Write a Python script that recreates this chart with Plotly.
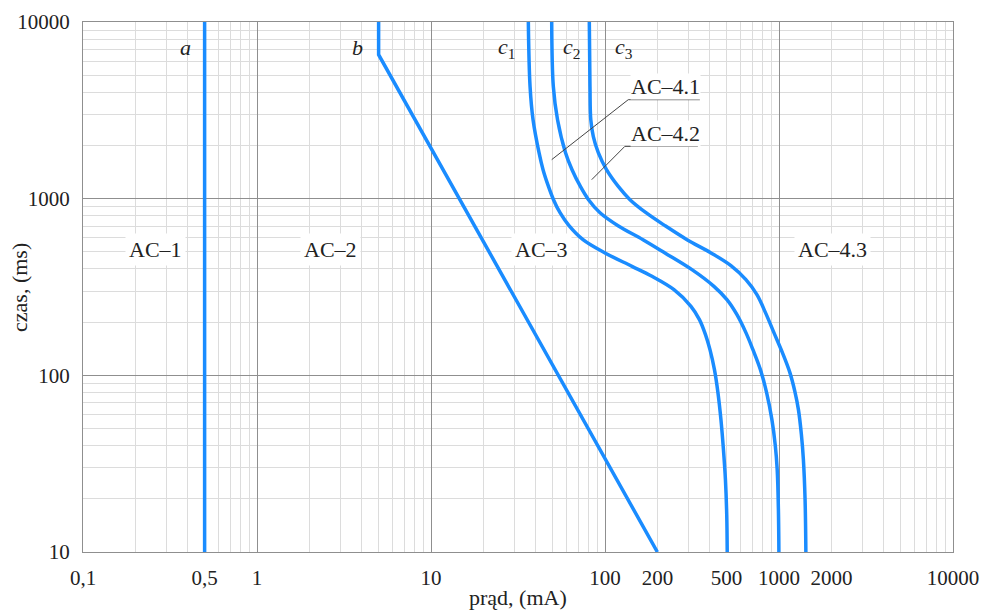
import numpy as np
import plotly.graph_objects as go

# ---- data (current in mA, time in ms) ----
a_x = [0.5, 0.5]
a_y = [10, 10000]

b_x = [5, 5, 200]
b_y = [10000, 6530, 10]

c1_x = [36.26, 37.09, 38.59, 41.77, 44.05, 47.37, 50.58, 55.15, 62.12, 74.74, 100.0, 142.9, 186.2,
        249.1, 311.9, 349.0, 378.0, 401.1, 425.6, 445.8, 463.8, 479.4, 492.2, 500.7, 504.0]
c1_y = [10000, 4321, 2799, 1821, 1459, 1169, 987, 833, 703.5, 586.1, 492.9, 414, 363.4,
        305.5, 245.8, 206.7, 170, 139.8, 107.7, 79.8, 56.15, 37.97, 25.69, 16.28, 10]

c2_x = [49.40, 50.46, 53.36, 59.31, 64.65, 72.32, 80.40, 93.61, 118.8, 165.3, 221.1, 316.0,
        422.7, 502.0, 573.2, 645.4, 708.1, 781.9, 848.8, 910.3, 951.0, 976.5, 992.2, 998.7]
c2_y = [10000, 4321, 2799, 1821, 1459, 1169, 987, 833, 703.5, 586.1, 492.9, 396.4,
        318.9, 268.2, 220.6, 174.5, 139.8, 107.7, 79.8, 56.15, 40.52, 29.27, 17.38, 10]

c3_x = [81.25, 81.97, 82.85, 85.7, 91.5, 102.0, 119.5, 139.2, 172.0, 221.1, 295.8, 406.5, 529.3,
        645.4, 746.6, 841.0, 934.8, 1046, 1155, 1234, 1293, 1345, 1381, 1412, 1427]
c3_y = [10000, 4321, 2799, 2243, 1821, 1459, 1169, 987, 833, 703.5, 586.1, 492.9, 417.7,
        347.9, 286.2, 223.5, 174.5, 134.4, 103.6, 80.9, 63.97, 46.17, 33.34, 19.8, 10]

x_tick_vals = [0.1, 0.5, 1, 10, 100, 200, 500, 1000, 2000, 10000]
x_tick_text = ["0,1", "0,5", "1", "10", "100", "200", "500", "1000", "2000", "10000"]
y_tick_vals = [10, 100, 1000, 10000]
y_tick_text = ["10", "100", "1000", "10000"]

zone_labels = ["AC–1", "AC–2", "AC–3", "AC–4.3"]
curve_labels = ["<i>a</i>", "<i>b</i>", "<i>c</i><sub>1</sub>", "<i>c</i><sub>2</sub>", "<i>c</i><sub>3</sub>"]
leader_labels = ["AC–4.1", "AC–4.2"]

# ---- layout / style ----
FONT = "Liberation Serif"
BLUE = "#1a8cff"
MAJOR = "#8f8f8f"
MINOR = "#dcdcdc"
TXT = "#222"

fig = go.Figure()

for xs, ys in [(a_x, a_y), (b_x, b_y)]:
    fig.add_trace(go.Scatter(x=xs, y=ys, mode="lines", line=dict(color=BLUE, width=3.5),
                             hoverinfo="skip", showlegend=False))
for xs, ys in [(c1_x, c1_y), (c2_x, c2_y), (c3_x, c3_y)]:
    fig.add_trace(go.Scatter(x=xs, y=ys, mode="lines",
                             line=dict(color=BLUE, width=3.5, shape="spline", smoothing=1.0),
                             hoverinfo="skip", showlegend=False))

# leader lines for AC-4.1 / AC-4.2 (underline + pointer)
leaders = [
    ([351, 136, 49.4], [3633, 3633, 1663]),
    ([342, 130, 83.9], [1977, 1977, 1281]),
]
for lx, ly in leaders:
    fig.add_trace(go.Scatter(x=lx, y=ly, mode="lines", line=dict(color="#444", width=1),
                             hoverinfo="skip", showlegend=False))

# empty trace anchoring the labelled x axis
fig.add_trace(go.Scatter(x=[], y=[], xaxis="x2", yaxis="y", showlegend=False, hoverinfo="skip"))

annotations = []
zone_pos = [(0.26, 514), (2.63, 514), (42.9, 514), (2040, 514)]
for txt, (px, py) in zip(zone_labels, zone_pos):
    annotations.append(dict(x=np.log10(px), y=np.log10(py), xref="x", yref="y", text=txt,
                            showarrow=False, font=dict(family=FONT, size=22, color=TXT),
                            bgcolor="white", borderpad=3, xanchor="center", yanchor="middle"))
curve_pos = [(0.387, 7155), (3.76, 7155), (27.0, 7155), (64.6, 7155), (128.6, 7155)]
for txt, (px, py) in zip(curve_labels, curve_pos):
    annotations.append(dict(x=np.log10(px), y=np.log10(py), xref="x", yref="y", text=txt,
                            showarrow=False, font=dict(family=FONT, size=22, color=TXT),
                            xanchor="center", yanchor="middle"))
leader_pos = [(224, 4326), (222, 2324)]
for txt, (px, py) in zip(leader_labels, leader_pos):
    annotations.append(dict(x=np.log10(px), y=np.log10(py), xref="x", yref="y", text=txt,
                            showarrow=False, font=dict(family=FONT, size=22, color=TXT),
                            bgcolor="white", borderpad=0, xanchor="center", yanchor="middle"))

# axis titles
annotations.append(dict(x=0.5, y=-0.086, xref="paper", yref="paper", text="prąd, (mA)",
                        showarrow=False, font=dict(family=FONT, size=22, color=TXT),
                        xanchor="center", yanchor="middle"))
annotations.append(dict(x=-0.0736, y=0.5, xref="paper", yref="paper", text="czas, (ms)",
                        showarrow=False, textangle=-90, font=dict(family=FONT, size=22, color=TXT),
                        xanchor="center", yanchor="middle"))

fig.update_layout(
    width=982, height=614,
    margin=dict(l=83, r=29, t=22, b=62, autoexpand=False),
    paper_bgcolor="white", plot_bgcolor="white",
    font=dict(family=FONT, size=21, color=TXT),
    annotations=annotations,
    xaxis=dict(type="log", range=[-1, 4], dtick=1, showticklabels=False, ticks="", automargin=False,
               showgrid=True, gridcolor=MAJOR, gridwidth=1,
               minor=dict(dtick="D1", showgrid=True, gridcolor=MINOR, gridwidth=1, ticks=""),
               showline=True, linecolor=MAJOR, linewidth=1, mirror=True, zeroline=False),
    xaxis2=dict(type="log", range=[-1, 4], overlaying="x", anchor="y", side="bottom", automargin=False,
                tickmode="array", tickvals=x_tick_vals, ticktext=x_tick_text, ticks="",
                showgrid=False, showline=False, zeroline=False, ticklabelstandoff=11,
                tickfont=dict(family=FONT, size=21, color=TXT)),
    yaxis=dict(type="log", range=[1, 4], tickmode="array", tickvals=y_tick_vals, ticktext=y_tick_text,
               ticks="", showgrid=True, gridcolor=MAJOR, gridwidth=1, automargin=False,
               minor=dict(dtick="D1", showgrid=True, gridcolor=MINOR, gridwidth=1, ticks=""),
               showline=True, linecolor=MAJOR, linewidth=1, mirror=True, zeroline=False,
               ticklabelstandoff=8, tickfont=dict(family=FONT, size=21, color=TXT)),
)

fig.write_html("out.html")
